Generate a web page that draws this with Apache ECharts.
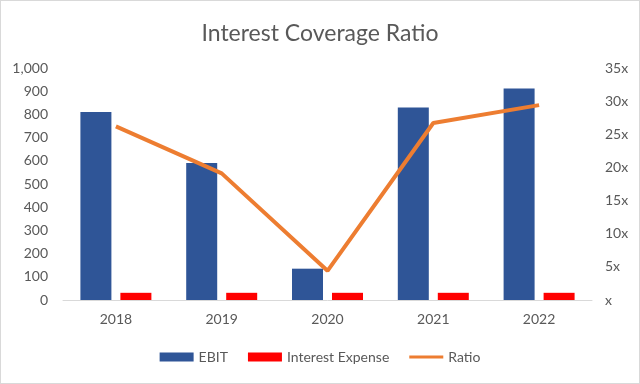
<!DOCTYPE html>
<html><head><meta charset="utf-8">
<script src="https://cdn.jsdelivr.net/npm/echarts@6/dist/echarts.min.js"></script>
<style>html,body{margin:0;padding:0;background:#fff}#c{width:638px;height:382px;border:1px solid #d9d9d9}</style>
</head><body><div id="c"></div>
<script>
const categories = ['2018','2019','2020','2021','2022'];
const ebit = [810, 590, 135, 830, 912];
const interestExpense = [31, 31, 31, 31, 31];
const ratio = [26.2, 19.1, 4.4, 26.7, 29.4];
const leftTicks = [0, 1000, 100];
const rightTicks = [0, 35, 5];

const chart = echarts.init(document.getElementById('c'));
const font = 'Lato, "Open Sans", sans-serif';
chart.setOption({
  animation: false,
  textStyle: {fontFamily: font},
  title: {text: 'Interest Coverage Ratio', left: 'center', top: 16,
    textStyle: {fontSize: 23, fontWeight: 'normal', color: '#595959', fontFamily: font}},
  legend: {bottom: 14, left: 'center', itemGap: 20, itemWidth: 34, itemHeight: 9,
    textStyle: {fontSize: 14, color: '#595959'},
    data: [{name:'EBIT', icon:'rect'}, {name:'Interest Expense', icon:'rect'},
      {name:'Ratio', icon:'path://M0,0 L36,0 L36,3.2 L0,3.2 Z'}]},
  grid: {left: 62, right: 47, top: 67, bottom: 83},
  xAxis: {type: 'category', data: categories,
    axisLine: {lineStyle: {color: '#d9d9d9'}}, axisTick: {show: false},
    axisLabel: {color: '#595959', fontSize: 14, margin: 12}},
  yAxis: [
    {type: 'value', min: leftTicks[0], max: leftTicks[1], interval: leftTicks[2],
      splitLine: {show: false}, axisLine: {show: false}, axisTick: {show: false},
      axisLabel: {color: '#595959', fontSize: 14, margin: 15,
        formatter: v => v.toLocaleString('en-US')}},
    {type: 'value', min: rightTicks[0], max: rightTicks[1], interval: rightTicks[2],
      splitLine: {show: false}, axisLine: {show: false}, axisTick: {show: false},
      axisLabel: {color: '#595959', fontSize: 14, margin: 13,
        formatter: v => v === 0 ? 'x' : v + 'x'}}
  ],
  series: [
    {name: 'EBIT', type: 'bar', data: ebit, barWidth: 31, barGap: '29%',
      itemStyle: {color: '#2F5597'}},
    {name: 'Interest Expense', type: 'bar', data: interestExpense, barWidth: 31,
      itemStyle: {color: '#FF0000'}},
    {name: 'Ratio', type: 'line', yAxisIndex: 1, data: ratio, symbol: 'none',
      lineStyle: {color: '#ED7D31', width: 4}, itemStyle: {color: '#ED7D31'}}
  ]
});
</script></body></html>
